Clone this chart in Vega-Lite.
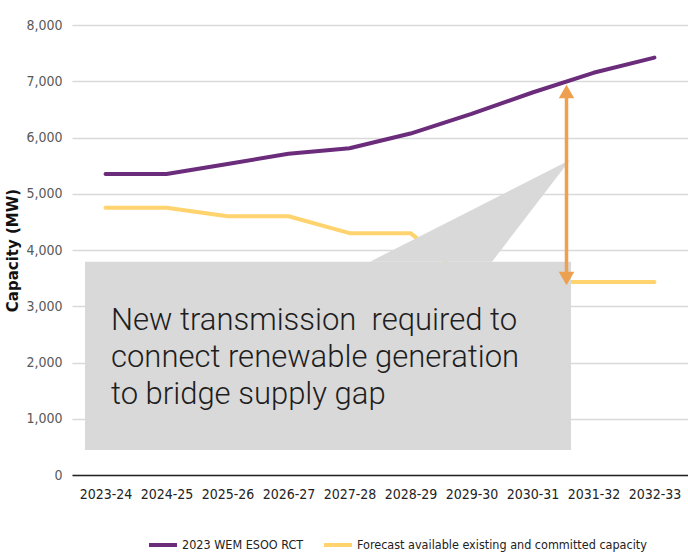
{
  "$schema": "https://vega.github.io/schema/vega-lite/v6.json",
  "width": 616,
  "height": 450,
  "autosize": {"type": "none"},
  "padding": {"left": 72, "top": 25, "right": 0, "bottom": 81},
  "background": "white",
  "config": {"view": {"stroke": null}, "font": "Liberation Sans"},
  "datasets": {
    "series": [
      {"year": "2023-24", "series": "2023 WEM ESOO RCT", "v": 5350},
      {"year": "2024-25", "series": "2023 WEM ESOO RCT", "v": 5350},
      {"year": "2025-26", "series": "2023 WEM ESOO RCT", "v": 5530},
      {"year": "2026-27", "series": "2023 WEM ESOO RCT", "v": 5710},
      {"year": "2027-28", "series": "2023 WEM ESOO RCT", "v": 5810},
      {"year": "2028-29", "series": "2023 WEM ESOO RCT", "v": 6070},
      {"year": "2029-30", "series": "2023 WEM ESOO RCT", "v": 6420},
      {"year": "2030-31", "series": "2023 WEM ESOO RCT", "v": 6800},
      {"year": "2031-32", "series": "2023 WEM ESOO RCT", "v": 7150},
      {"year": "2032-33", "series": "2023 WEM ESOO RCT", "v": 7420},
      {"year": "2023-24", "series": "Forecast available existing and committed capacity", "v": 4750},
      {"year": "2024-25", "series": "Forecast available existing and committed capacity", "v": 4750},
      {"year": "2025-26", "series": "Forecast available existing and committed capacity", "v": 4600},
      {"year": "2026-27", "series": "Forecast available existing and committed capacity", "v": 4600},
      {"year": "2027-28", "series": "Forecast available existing and committed capacity", "v": 4300},
      {"year": "2028-29", "series": "Forecast available existing and committed capacity", "v": 4300},
      {"year": "2029-30", "series": "Forecast available existing and committed capacity", "v": 3430},
      {"year": "2030-31", "series": "Forecast available existing and committed capacity", "v": 3430},
      {"year": "2031-32", "series": "Forecast available existing and committed capacity", "v": 3430},
      {"year": "2032-33", "series": "Forecast available existing and committed capacity", "v": 3430}
    ],
    "box": [{"x": -0.337, "x2": 7.632, "v": 3792, "v2": 444}],
    "callout": [
      {"x": 4.336, "v": 3792, "v2": 3792},
      {"x": 6.336, "v": 4895, "v2": 3792},
      {"x": 7.615, "v": 5600, "v2": 5600}
    ],
    "arrow": [{"x": 7.558, "v": 6750, "v2": 3550}],
    "heads": [
      {"x": 7.558, "v": 6818, "shape": "triangle-up"},
      {"x": 7.558, "v": 3493, "shape": "triangle-down"}
    ],
    "note": [{"x": 0.089, "v": 2578, "label": "New transmission\u00a0 required to\nconnect renewable generation\nto bridge supply gap"}]
  },
  "resolve": {"scale": {"x": "independent"}},
  "layer": [
    {
      "data": {"name": "series"},
      "mark": {"type": "line", "strokeWidth": 4, "strokeCap": "round", "strokeJoin": "round"},
      "encoding": {
        "x": {
          "field": "year", "type": "ordinal", "sort": null,
          "scale": {"type": "point", "padding": 0.55},
          "axis": {
            "title": null, "ticks": false, "grid": false,
            "domainColor": "#222222", "domainWidth": 1.5,
            "labelFont": "'Liberation Sans Narrow', 'DejaVu Sans Condensed', 'Liberation Sans'", "labelFontSize": 14, "labelColor": "#222222",
            "labelPadding": 12, "labelAngle": 0
          }
        },
        "y": {
          "field": "v", "type": "quantitative",
          "scale": {"domain": [0, 8000], "nice": false},
          "axis": {
            "title": "Capacity (MW)", "titleFont": "DejaVu Sans", "titleFontWeight": "bold",
            "titleFontSize": 15, "titleColor": "#111111", "titlePadding": 5,
            "values": [0, 1000, 2000, 3000, 4000, 5000, 6000, 7000, 8000],
            "format": ",d", "domain": false, "ticks": false,
            "gridColor": "#D9D9D9", "gridWidth": 1.5,
            "labelFont": "'Liberation Sans Narrow', 'DejaVu Sans Condensed', 'Liberation Sans'", "labelFontSize": 14, "labelColor": "#595959",
            "labelPadding": 10
          }
        },
        "color": {
          "field": "series", "type": "nominal",
          "scale": {
            "domain": ["2023 WEM ESOO RCT", "Forecast available existing and committed capacity"],
            "range": ["#6B2D7B", "#FFD36E"]
          },
          "legend": {
            "orient": "none", "legendX": 75, "legendY": 504, "direction": "horizontal",
            "title": null, "symbolType": "stroke", "symbolSize": 784, "symbolStrokeWidth": 4,
            "labelFont": "'Liberation Sans Narrow', 'DejaVu Sans Condensed', 'Liberation Sans'", "labelFontSize": 12.5, "labelColor": "#222222",
            "labelOffset": 3, "columnPadding": 12, "labelLimit": 400
          }
        }
      }
    },
    {
      "data": {"name": "box"},
      "mark": {"type": "rect", "color": "#D9D9D9"},
      "encoding": {
        "x": {"field": "x", "type": "quantitative", "scale": {"domain": [-0.55, 9.55], "nice": false, "zero": false}, "axis": null},
        "x2": {"field": "x2"},
        "y": {"field": "v", "type": "quantitative", "scale": {"domain": [0, 8000], "nice": false}},
        "y2": {"field": "v2"}
      }
    },
    {
      "data": {"name": "callout"},
      "mark": {"type": "area", "color": "#D9D9D9", "interpolate": "linear"},
      "encoding": {
        "x": {"field": "x", "type": "quantitative", "scale": {"domain": [-0.55, 9.55], "nice": false, "zero": false}, "axis": null},
        "y": {"field": "v", "type": "quantitative", "scale": {"domain": [0, 8000], "nice": false}},
        "y2": {"field": "v2"}
      }
    },
    {
      "data": {"name": "note"},
      "mark": {"type": "text", "align": "left", "baseline": "alphabetic", "lineBreak": "\n", "lineHeight": 37, "fontSize": 31, "font": "Roboto", "fontWeight": 300, "color": "#1E1E1E"},
      "encoding": {
        "x": {"field": "x", "type": "quantitative", "scale": {"domain": [-0.55, 9.55], "nice": false, "zero": false}, "axis": null},
        "y": {"field": "v", "type": "quantitative", "scale": {"domain": [0, 8000], "nice": false}},
        "text": {"field": "label"}
      }
    },
    {
      "data": {"name": "arrow"},
      "mark": {"type": "rule", "color": "#EDA04F", "strokeWidth": 3.5},
      "encoding": {
        "x": {"field": "x", "type": "quantitative", "scale": {"domain": [-0.55, 9.55], "nice": false, "zero": false}, "axis": null},
        "y": {"field": "v", "type": "quantitative", "scale": {"domain": [0, 8000], "nice": false}},
        "y2": {"field": "v2"}
      }
    },
    {
      "data": {"name": "heads"},
      "mark": {"type": "point", "filled": true, "color": "#EDA04F", "opacity": 1, "size": 240},
      "encoding": {
        "x": {"field": "x", "type": "quantitative", "scale": {"domain": [-0.55, 9.55], "nice": false, "zero": false}, "axis": null},
        "y": {"field": "v", "type": "quantitative", "scale": {"domain": [0, 8000], "nice": false}},
        "shape": {"field": "shape", "type": "nominal", "scale": null}
      }
    }
  ]
}
